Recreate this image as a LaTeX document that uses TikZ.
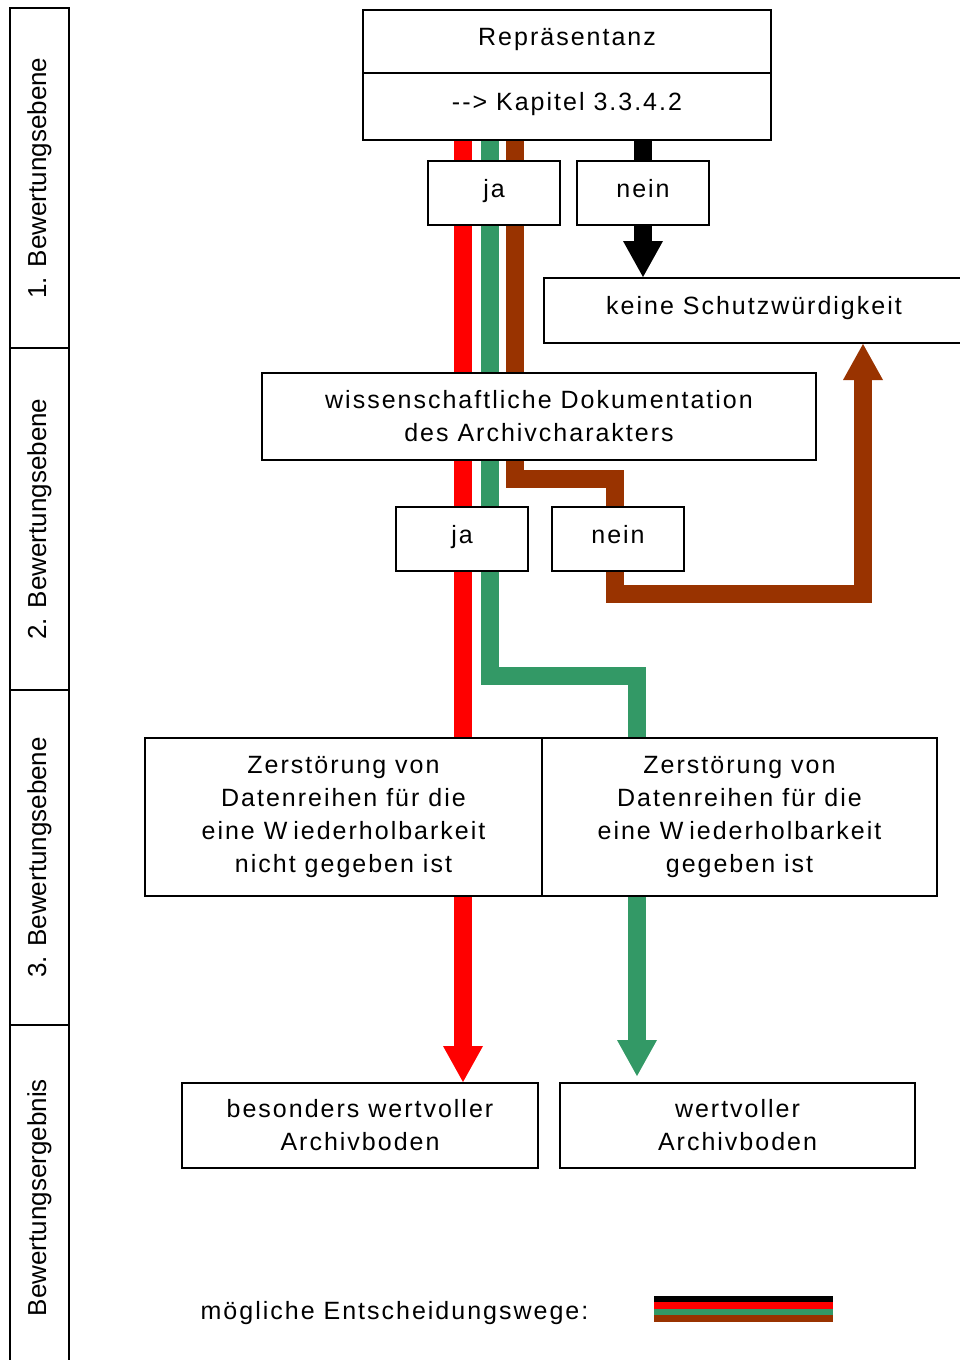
\documentclass[tikz,border=0pt]{standalone}
\usepackage{fontspec}
\setmainfont{Liberation Sans}[LetterSpace=8]
\newfontfamily\lanefont{Liberation Sans}
\usetikzlibrary{arrows.meta,calc}
\pgfdeclarelayer{bg}
\pgfsetlayers{bg,main}
\definecolor{pathred}{RGB}{255,0,0}
\definecolor{pathgreen}{RGB}{51,153,102}
\definecolor{pathbrown}{RGB}{153,51,0}
\begin{document}
\begin{tikzpicture}[x=1pt,y=-1pt,
  box/.style={draw=black, line width=2pt, fill=white, inner sep=0pt, align=center, font=\fontsize{25}{33}\selectfont},
  oneline/.style={text height=16pt, text depth=7.5pt},
  lane/.style={draw=black, line width=2pt, inner sep=0pt, minimum width=59pt, font=\lanefont\fontsize{26}{30}\selectfont},
  route/.style={line width=18pt, line cap=butt, line join=miter},
  tip/.style={-{Triangle[width=40pt,length=36pt,line width'=0pt]}},
]
\useasboundingbox (0,0) rectangle (959,1360);
% lanes
\node[lane, minimum height=340pt] (l1) at (39.5,178) {\rotatebox{90}{1. Bewertungsebene}};
\node[lane, minimum height=342pt] (l2) at (39.5,519) {\rotatebox{90}{2. Bewertungsebene}};
\node[lane, minimum height=335pt] (l3) at (39.5,857.5) {\rotatebox{90}{3. Bewertungsebene}};
\node[lane, minimum height=345pt] (l4) at (39.5,1197.5) {\rotatebox{90}{Bewertungsergebnis}};
% boxes
\node[box, oneline, minimum width=408pt, minimum height=63pt] (rep1) at (567,41.5) {Repräsentanz};
\node[box, oneline, minimum width=408pt, minimum height=67pt] (rep2) at (567,106.5) {-{}-{}> Kapitel 3.3.4.2};
\node[box, oneline, minimum width=132pt, minimum height=64pt] (ja1) at (494,193) {ja};
\node[box, oneline, minimum width=132pt, minimum height=64pt] (nein1) at (643,193) {nein};
\node[box, oneline, minimum width=420pt, minimum height=65pt] (keine) at (754,310.5) {keine Schutzwürdigkeit};
\node[box, minimum width=554pt, minimum height=87pt] (wiss) at (539,416.5) {wissenschaftliche Dokumentation\\des Archivcharakters};
\node[box, oneline, minimum width=132pt, minimum height=64pt] (ja2) at (462,539) {ja};
\node[box, oneline, minimum width=132pt, minimum height=64pt] (nein2) at (618,539) {nein};
\node[box, minimum width=397pt, minimum height=158pt] (z1) at (343.5,817) {Zerstörung von\\Datenreihen für die\\eine W\kern6pt iederholbarkeit\\nicht gegeben ist};
\node[box, minimum width=395pt, minimum height=158pt] (z2) at (739.5,817) {Zerstörung von\\Datenreihen für die\\eine W\kern6pt iederholbarkeit\\gegeben ist};
\node[box, minimum width=356pt, minimum height=85pt] (r1) at (360,1125.5) {besonders wertvoller\\Archivboden};
\node[box, minimum width=355pt, minimum height=85pt] (r2) at (737.5,1125.5) {wertvoller\\Archivboden};
% legend
\node[inner sep=0pt, font=\fontsize{25}{33}\selectfont] (legtext) at (394.5,1313) {mögliche Entscheidungswege:};
\fill[black] (654,1296) rectangle (833,1302);
\fill[pathred] (654,1302) rectangle (833,1309);
\fill[pathgreen] (654,1309) rectangle (833,1315);
\fill[pathbrown] (654,1315) rectangle (833,1322);
% route coordinates
\coordinate (rx) at (463,0);
\coordinate (gx) at (490,0);
\coordinate (gy) at (0,676);
\coordinate (gx2) at (637,0);
\coordinate (bx) at (515,0);
\coordinate (by1) at (0,479);
\coordinate (bx2) at (615,0);
\coordinate (by2) at (0,594);
\coordinate (bx3) at (863,0);
\begin{pgfonlayer}{bg}
\draw[route, black] (rep2.south -| nein1) -- (nein1.north);
\draw[route, black, tip] (nein1.south) -- (keine.north -| nein1);
\draw[route, pathred] (rep2.south -| rx) -- (z1.north -| rx);
\draw[route, pathred, tip] (z1.south -| rx) -- (r1.north -| rx);
\draw[route, pathgreen] (rep2.south -| gx) -- (gx |- gy) -- (gx2 |- gy) -- (z2.north -| gx2);
\draw[route, pathgreen, tip] (z2.south -| gx2) -- ($(r2.north -| gx2)+(0,-6)$);
\draw[route, pathbrown] (rep2.south -| bx) -- (bx |- by1) -- (bx2 |- by1) -- (nein2.north -| bx2);
\draw[route, pathbrown, tip] (nein2.south -| bx2) -- (bx2 |- by2) -- (bx3 |- by2) -- (keine.south -| bx3);
\end{pgfonlayer}
\end{tikzpicture}
\end{document}
